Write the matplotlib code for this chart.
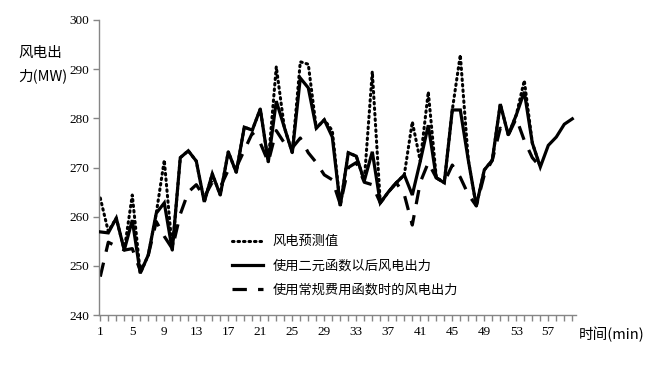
import numpy as np
import matplotlib
matplotlib.use("Agg")
import matplotlib.pyplot as plt

plt.rcParams['font.family'] = ['Noto Sans CJK SC', 'DejaVu Sans']

minutes = list(range(1, 61))

# 使用二元函数以后风电出力 (solid)
binary = [256.9, 256.7, 259.7, 253.2, 259.3, 248.5, 252.2, 260.7, 262.8, 253.2,
          272.0, 273.4, 271.3, 263.0, 268.7, 264.4, 273.2, 269.0, 278.2, 277.6,
          281.9, 271.1, 283.5, 278.2, 273.0, 288.2, 286.2, 278.0, 279.7, 276.2,
          262.2, 273.0, 272.3, 267.3, 273.2, 262.8, 265.0, 266.9, 268.5, 264.4,
          271.3, 278.6, 267.9, 266.9, 281.7, 281.7, 271.5, 262.2, 269.5, 271.5,
          282.9, 276.6, 280.7, 285.4, 275.0, 270.1, 274.5, 276.2, 278.8, 279.9]

# 风电预测值 (dotted)
forecast = [263.8, 257.0, 259.7, 253.2, 264.4, 248.5, 252.2, 260.7, 271.5, 253.2,
            272.0, 273.4, 271.3, 263.0, 268.7, 264.4, 273.2, 269.0, 278.2, 277.6,
            281.9, 271.1, 290.5, 278.2, 273.0, 291.5, 291.0, 278.0, 279.7, 277.5,
            262.2, 273.0, 272.3, 267.3, 289.5, 262.8, 265.0, 266.9, 268.5, 279.3,
            271.3, 285.4, 267.9, 266.9, 281.7, 292.9, 271.5, 262.2, 269.5, 271.5,
            282.9, 276.6, 280.7, 287.7, 275.0, 270.1]

# 使用常规费用函数时的风电出力 (dashed)
conventional = [247.8, 254.8, 254.0, 253.2, 253.5, 249.0, 252.2, 259.0, 256.0, 253.5,
                260.5, 265.0, 266.5, 264.0, 267.0, 266.0, 269.5, 270.0, 273.5, 277.0,
                275.0, 271.1, 277.5, 275.0, 274.0, 276.0, 273.0, 271.0, 268.5, 267.5,
                262.5, 270.0, 271.0, 267.0, 266.5, 262.8, 265.0, 266.9, 264.5, 258.3,
                267.0, 271.0, 267.9, 267.0, 270.5, 268.0, 264.5, 262.2, 268.5, 271.5,
                278.0, 276.6, 280.0, 275.5, 272.0, 270.1]

y_ticks = [240, 250, 260, 270, 280, 290, 300]
x_labels = list(range(1, 58, 4))

fig = plt.figure(figsize=(6.48, 3.69), dpi=100)
ax = fig.add_axes([99/648, 1-315/369, (576.3-99)/648, (315-20)/369])

ax.plot(minutes[:len(forecast)], forecast, color='black', lw=2.2,
        linestyle=(0, (0.5, 1.3)), dash_capstyle='round', label='风电预测值', zorder=2)
ax.plot(minutes, binary, color='black', lw=2.3, solid_joinstyle='miter',
        label='使用二元函数以后风电出力', zorder=3)
ax.plot(minutes[:len(conventional)], conventional, color='black', lw=2.3,
        linestyle=(0, (4.5, 3.5)), label='使用常规费用函数时的风电出力', zorder=2)

ax.set_xlim(0.84, 60.5)
ax.set_ylim(240, 300)
ax.set_yticks(y_ticks)
ax.set_xticks(minutes)
ax.set_xticklabels([str(m) if m in x_labels else '' for m in minutes])

for s in ['top', 'right']:
    ax.spines[s].set_visible(False)
for s in ['left', 'bottom']:
    ax.spines[s].set_color('#868686')
    ax.spines[s].set_linewidth(1.0)
ax.tick_params(axis='both', direction='out', color='#868686', length=4, width=1,
               labelsize=9)
ax.tick_params(axis='x', pad=4)
ax.tick_params(axis='y', pad=3)
for lab in ax.get_xticklabels() + ax.get_yticklabels():
    lab.set_family('Liberation Serif')
    lab.set_fontsize(9.5)

fig.text(18/648, 1-53/369, '风电出', fontsize=10.5, va='center', ha='left')
fig.text(18/648, 1-76/369, '力(MW)', fontsize=10.5, va='center', ha='left')
fig.text(579/648, 1-334/369, '时间(min)', fontsize=10.5, va='center', ha='left')

leg = ax.legend(loc='upper left', bbox_to_anchor=((227-99)/(576.3-99), (315-230)/295),
                frameon=False, fontsize=9.5, handlelength=2.3, handletextpad=0.75,
                labelspacing=0.85, borderaxespad=0)

fig.savefig('out.png', dpi=100)
